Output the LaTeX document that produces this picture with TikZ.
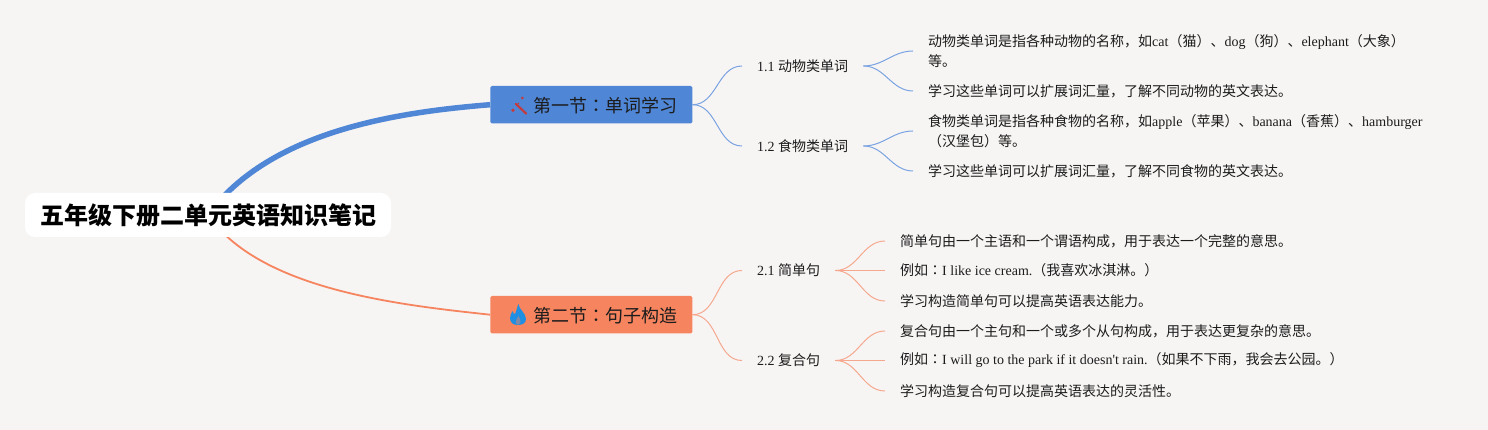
\documentclass[tikz,border=0pt]{standalone}
\usepackage{fontspec}
\setmainfont{Liberation Serif}
\newfontfamily\lat{Liberation Serif}
\newfontfamily\cjk{Noto Sans CJK SC}
\newfontfamily\cjktc{Noto Sans CJK TC}
\usetikzlibrary{backgrounds}
\definecolor{bgc}{HTML}{F7F5F4}
\definecolor{bluem}{HTML}{4F86D6}
\definecolor{orangem}{HTML}{F5845F}
\definecolor{bluet}{HTML}{7AA3E2}
\definecolor{oranget}{HTML}{F5A88E}
\definecolor{inkc}{HTML}{1C1C1C}
\definecolor{flamec}{HTML}{1F8FE3}
\definecolor{toolc}{HTML}{C23B3F}
\newcommand{\zh}[1]{{\cjk #1}}
\newcommand{\cln}{{\cjktc ：}}
\tikzset{
  x=1pt,y=-1pt,
  rootbox/.style={fill=white,rounded corners=10pt,minimum width=366pt,minimum height=44pt,inner sep=0pt,font=\fontsize{24}{28}\selectfont\cjk\bfseries,text=black},
  secbox/.style={rounded corners=1.5pt,minimum width=202pt,minimum height=37.5pt,inner sep=0pt},
  sectxt/.style={anchor=west,inner sep=0pt,font=\fontsize{18}{22}\selectfont\cjk,text=inkc},
  lab/.style={inner xsep=15pt,inner ysep=0pt,anchor=west,font=\fontsize{14}{20}\selectfont,text=inkc},
  leaf/.style={inner xsep=15pt,inner ysep=0pt,anchor=west,align=left,font=\fontsize{14}{20}\selectfont,text=inkc},
  thinb/.style={draw=bluet,line width=1pt},
  thino/.style={draw=oranget,line width=1pt},
}
\begin{document}
\begin{tikzpicture}
\useasboundingbox (0,0) rectangle (1488,430);
\node[rootbox] (root) at (208,215) {五年级下册二单元英语知识笔记};
\node[secbox,fill=bluem] (s1) at (591.3,104.7) {};
\node[secbox,fill=orangem] (s2) at (591.3,314.7) {};
\node[sectxt] (s1t) at (533,105.5) {第一节\cln 单词学习};
\node[sectxt] (s2t) at (533,315.5) {第二节\cln 句子构造};
% icons
\draw[toolc,line width=2.2pt,line cap=round] (516,104) -- (526,113.5);
\draw[toolc,line width=1pt,line cap=round] (519,103) -- (516.5,105.5);
\fill[toolc] (522.3,98) circle (1.5pt) (513,110.3) circle (1.9pt);
\begin{scope}[shift={(510,304)},xscale=.84]
  \fill[flamec] (10,0) .. controls (11,6) and (19,9) .. (19,15) .. controls (19,19) and (15,21) .. (9.5,21) .. controls (4,21) and (0,19) .. (0,14) .. controls (0,11) and (2,9) .. (3,7) .. controls (4,9) and (4,10) .. (6,10) .. controls (8,7) and (8,4) .. (10,0) -- cycle;
  \fill[orangem!45!flamec] (9.5,21) .. controls (6,20) and (6,17) .. (10,12) .. controls (13,16) and (14,19) .. (9.5,21) -- cycle;
\end{scope}
% labels
\node[lab] (l11) at (742,66) {1.1 \zh{动物类单词}};
\node[lab] (l12) at (742,146) {1.2 \zh{食物类单词}};
\node[lab] (l21) at (742,270.5) {2.1 \zh{简单句}};
\node[lab] (l22) at (742,360.5) {2.2 \zh{复合句}};
% leaves
\node[leaf] (a1) at (913,51) {\zh{动物类单词是指各种动物的名称，如}cat\zh{（猫）、}dog\zh{（狗）、}elephant\zh{（大象）}\\\zh{等。}};
\node[leaf] (a2) at (913,91) {\zh{学习这些单词可以扩展词汇量，了解不同动物的英文表达。}};
\node[leaf] (b1) at (913,131) {\zh{食物类单词是指各种食物的名称，如}apple\zh{（苹果）、}banana\zh{（香蕉）、}hamburger\\\zh{（汉堡包）等。}};
\node[leaf] (b2) at (913,171) {\zh{学习这些单词可以扩展词汇量，了解不同食物的英文表达。}};
\node[leaf] (c1) at (885,241) {\zh{简单句由一个主语和一个谓语构成，用于表达一个完整的意思。}};
\node[leaf] (c2) at (885,270.5) {\zh{例如}\cln I like ice cream.\zh{（我喜欢冰淇淋。）}};
\node[leaf] (c3) at (885,301) {\zh{学习构造简单句可以提高英语表达能力。}};
\node[leaf] (d1) at (885,331) {\zh{复合句由一个主句和一个或多个从句构成，用于表达更复杂的意思。}};
\node[leaf] (d2) at (885,360.5) {\zh{例如}\cln {\lat I will go to the park if it doesn't rain.}\zh{（如果不下雨，我会去公园。）}};
\node[leaf] (d3) at (885,391) {\zh{学习构造复合句可以提高英语表达的灵活性。}};
% connectors
\begin{scope}[on background layer]
  \fill[bgc] (0,0) rectangle (1488,430);
  \draw[bluem,line width=5.5pt] (root.center) .. controls (270,130) and (400,112) .. (s1.west);
  \draw[orangem,line width=1.8pt] (root.center) .. controls (260,290) and (400,305) .. (s2.west);
\end{scope}
\foreach \a/\b in {s1/l11,s1/l12,l11/a1,l11/a2,l12/b1,l12/b2}
  \draw[thinb] (\a.east) to[out=0,in=180] (\b.west);
\foreach \a/\b in {s2/l21,s2/l22,l21/c1,l21/c2,l21/c3,l22/d1,l22/d2,l22/d3}
  \draw[thino] (\a.east) to[out=0,in=180] (\b.west);
\end{tikzpicture}
\end{document}
